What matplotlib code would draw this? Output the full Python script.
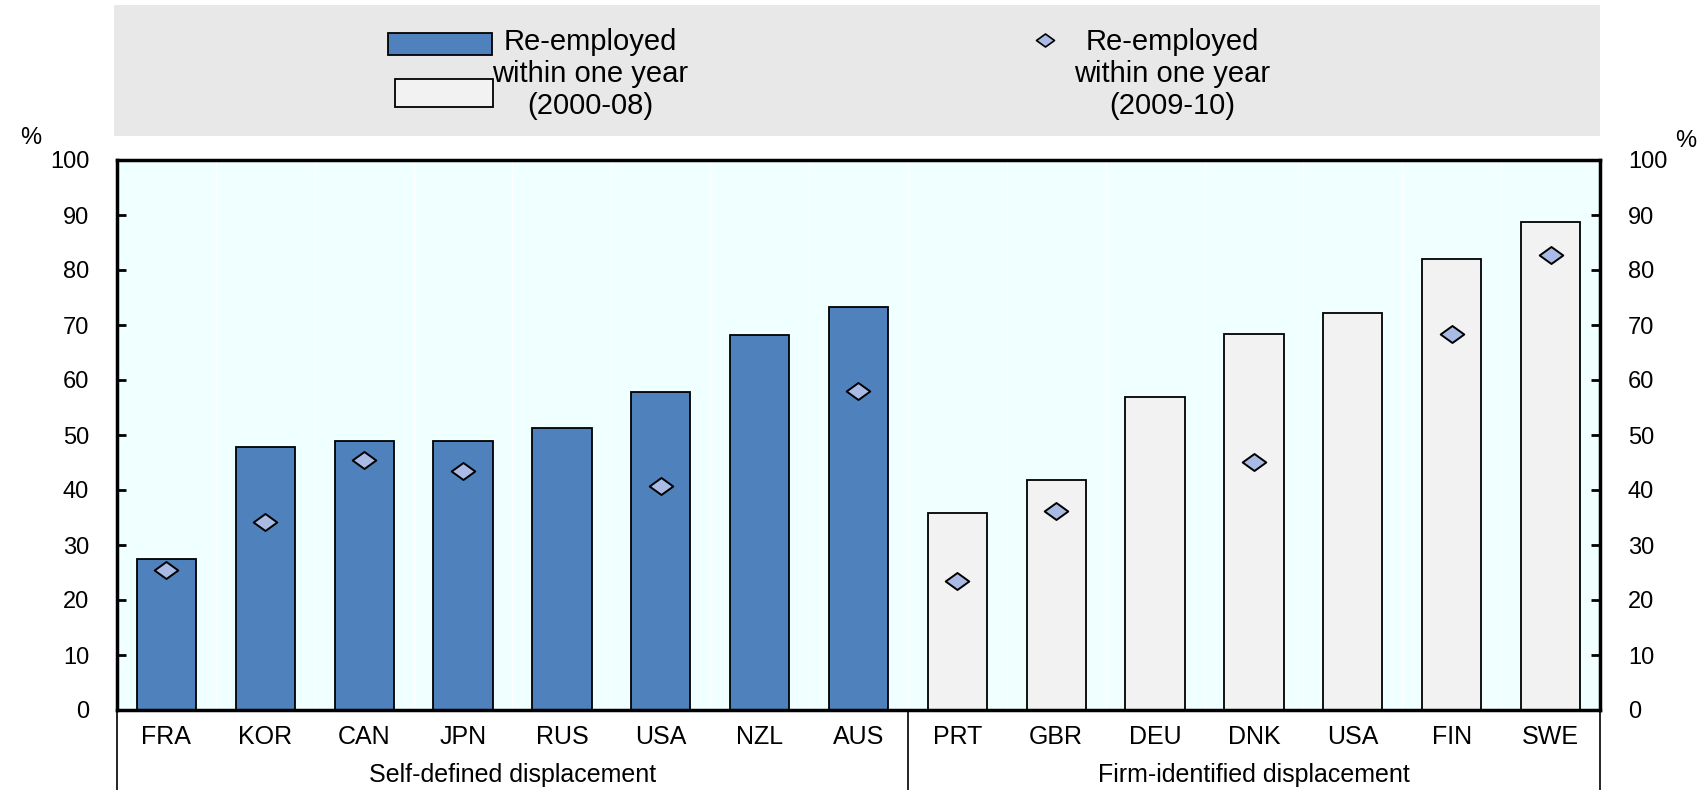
import numpy as np
import matplotlib.pyplot as plt
from matplotlib.patches import Rectangle
from matplotlib.path import Path
from matplotlib.lines import Line2D
import matplotlib.transforms as mtransforms

plt.rcParams['font.family'] = ['Liberation Sans', 'DejaVu Sans']

# data
self_countries = ['FRA', 'KOR', 'CAN', 'JPN', 'RUS', 'USA', 'NZL', 'AUS']
self_2000_08 = [27.5, 47.9, 48.9, 49.0, 51.3, 57.8, 68.1, 73.2]
self_2009_10 = [25.4, 34.1, 45.5, 43.4, np.nan, 40.7, np.nan, 58.0]

firm_countries = ['PRT', 'GBR', 'DEU', 'DNK', 'USA', 'FIN', 'SWE']
firm_2000_08 = [35.8, 41.8, 57.0, 68.3, 72.1, 82.0, 88.8]
firm_2009_10 = [23.4, 36.2, np.nan, 45.1, np.nan, 68.4, 82.8]

group_labels = ['Self-defined displacement', 'Firm-identified displacement']
legend_text = 'Re-employed\nwithin one year\n({0})'

blue = '#4F81BD'
light = '#F2F2F2'
diamond_fill = '#A9BBE4'
bg = '#F0FFFF'

diamond = Path([(-1, 0), (0, 0.72), (1, 0), (0, -0.72), (-1, 0)],
               [Path.MOVETO, Path.LINETO, Path.LINETO, Path.LINETO, Path.CLOSEPOLY])

W, H = 1706, 790
fig = plt.figure(figsize=(W / 100, H / 100), dpi=100)
ax = fig.add_axes([117 / W, 1 - 710 / H, 1483 / W, 550 / H])
ax.set_facecolor(bg)

n1 = len(self_countries)
n2 = len(firm_countries)
x1 = np.arange(n1)
x2 = np.arange(n2) + n1
width = 0.6

ax.bar(x1, self_2000_08, width, color=blue, edgecolor='black', linewidth=1.3, zorder=2)
ax.bar(x2, firm_2000_08, width, color=light, edgecolor='black', linewidth=1.3, zorder=2)
ax.plot(x1, self_2009_10, linestyle='none', marker=diamond, ms=17,
        mfc=diamond_fill, mec='black', mew=1.4, zorder=3)
ax.plot(x2, firm_2009_10, linestyle='none', marker=diamond, ms=17,
        mfc=diamond_fill, mec='black', mew=1.4, zorder=3)

# faint slot boundaries in the background
for b in np.arange(-0.5, n1 + n2, 1.0):
    ax.axvline(b, color='white', lw=1, zorder=0.5)

ax.set_xlim(-0.5, n1 + n2 - 0.5)
ax.set_ylim(0, 100)
ax.set_yticks(np.arange(0, 101, 10))
ax.tick_params(axis='y', direction='in', length=6.5, width=2, labelsize=17,
               left=True, right=True, labelleft=True, labelright=True, pad=20)
ax.set_xticks(np.concatenate([x1, x2]))
ax.set_xticklabels(self_countries + firm_countries, fontsize=18)
ax.tick_params(axis='x', length=0, pad=11)
for s in ax.spines.values():
    s.set_linewidth(2.5)

trans = mtransforms.blended_transform_factory(ax.transData, ax.transAxes)
for xb in [-0.5, n1 - 0.5, n1 + n2 - 0.5]:
    ax.plot([xb, xb], [0, -0.15], color='black', lw=1.2, transform=trans, clip_on=False)
ax.text((n1 - 1) / 2, -0.118, group_labels[0], transform=trans,
        ha='center', va='center', fontsize=18)
ax.text(n1 + (n2 - 1) / 2, -0.118, group_labels[1], transform=trans,
        ha='center', va='center', fontsize=18)

ax.text(-0.058, 1.04, '%', transform=ax.transAxes, ha='center', va='center', fontsize=17)
ax.text(1.058, 1.035, '%', transform=ax.transAxes, ha='center', va='center', fontsize=17)

# legend panel, laid out in pixel coordinates of the figure
lax = fig.add_axes([0, 0, 1, 1], zorder=-1)
lax.set_xlim(0, W)
lax.set_ylim(H, 0)
lax.axis('off')
lax.add_patch(Rectangle((114, 5), 1486, 131, facecolor='#E8E8E8', edgecolor='none'))
lax.add_patch(Rectangle((388, 33), 104, 22, facecolor=blue, edgecolor='black', lw=1.3))
lax.add_patch(Rectangle((395, 79), 98, 28, facecolor=light, edgecolor='black', lw=1.3))
lax.text(590, 74, legend_text.format('2000-08'), ha='center', va='center',
         fontsize=21, linespacing=1.16)
lax.add_line(Line2D([1045], [40], linestyle='none', marker=diamond, ms=13,
                    mfc=diamond_fill, mec='black', mew=1.2))
lax.text(1172, 74, legend_text.format('2009-10'), ha='center', va='center',
         fontsize=21, linespacing=1.16)

fig.savefig('out.png', dpi=100)
plt.close(fig)
